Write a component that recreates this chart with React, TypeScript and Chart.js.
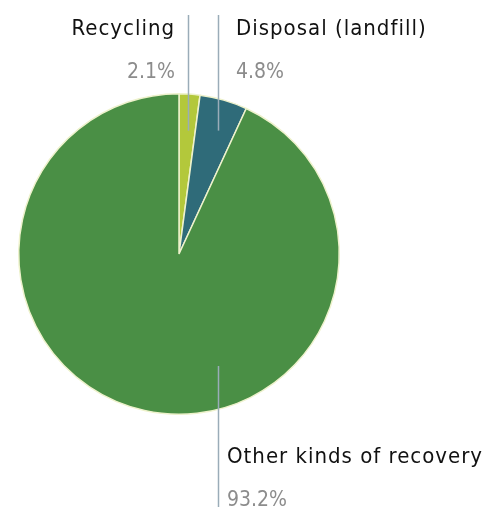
import React, { useEffect, useRef } from "react";
import { Chart, registerables } from "chart.js";

Chart.register(...registerables);

const categories = ["Recycling", "Disposal (landfill)", "Other kinds of recovery"];
const shares = [2.1, 4.8, 93.2];
const sliceColors = ["#b3c83b", "#2f6b79", "#4a8f45"];

const FONT = "'DejaVu Sans Condensed', 'DejaVu Sans', sans-serif";

const labelPlugin = {
  id: "calloutLabels",
  afterDraw(chart: any) {
    const ctx = chart.ctx;
    const meta = chart.getDatasetMeta(0);
    const cfgs = [
      { align: "right", tx: -13, lineTop: 15, titleY: 35, pctY: 78 },
      { align: "left", tx: 18, lineTop: 15, titleY: 35, pctY: 78 },
      { align: "left", tx: 9, lineTop: 366, titleY: 463, pctY: 506 },
    ];
    meta.data.forEach((arc: any, i: number) => {
      const p = arc.getProps(["x", "y", "startAngle", "endAngle", "outerRadius"], true);
      const c = cfgs[i];
      let lx: number, y1: number, y2: number;
      if (i < 2) {
        const mid = (p.startAngle + p.endAngle) / 2;
        const r = p.outerRadius * 0.88;
        lx = p.x + Math.cos(mid) * r;
        y1 = c.lineTop;
        y2 = p.y - p.outerRadius * 0.77;
      } else {
        lx = p.x + 39;
        y1 = c.lineTop;
        y2 = 507;
      }
      ctx.save();
      ctx.strokeStyle = "#9aacb8";
      ctx.lineWidth = 1.5;
      ctx.beginPath();
      ctx.moveTo(Math.round(lx) + 0.5, y1);
      ctx.lineTo(Math.round(lx) + 0.5, y2);
      ctx.stroke();
      const tx = Math.round(lx) + c.tx;
      ctx.textAlign = c.align;
      ctx.textBaseline = "alphabetic";
      ctx.font = `22px ${FONT}`;
      (ctx as any).letterSpacing = "1px";
      ctx.fillStyle = "#111111";
      ctx.fillText(categories[i], tx, c.titleY);
      ctx.font = `21px ${FONT}`;
      (ctx as any).letterSpacing = "0px";
      ctx.fillStyle = "#8c8c8c";
      ctx.fillText(shares[i].toFixed(1) + "%", tx, c.pctY);
      ctx.restore();
    });
  },
};

export default function App() {
  const ref = useRef<HTMLCanvasElement>(null);
  useEffect(() => {
    if (!ref.current) return;
    const chart = new Chart(ref.current, {
      type: "pie",
      data: {
        labels: categories,
        datasets: [
          {
            data: shares,
            backgroundColor: sliceColors,
            borderColor: "#eef2cc",
            borderWidth: 1.5,
          },
        ],
      },
      options: {
        responsive: false,
        animation: false,
        layout: { padding: { left: 18, right: 144, top: 93, bottom: 94 } },
        plugins: {
          legend: { display: false },
          tooltip: { enabled: false },
        },
      },
      plugins: [labelPlugin],
    });
    return () => chart.destroy();
  }, []);
  return (
    <div style={{ position: "fixed", left: 0, top: 0, width: 484, height: 509, background: "#fff" }}>
      <canvas ref={ref} width={484} height={509} />
    </div>
  );
}
